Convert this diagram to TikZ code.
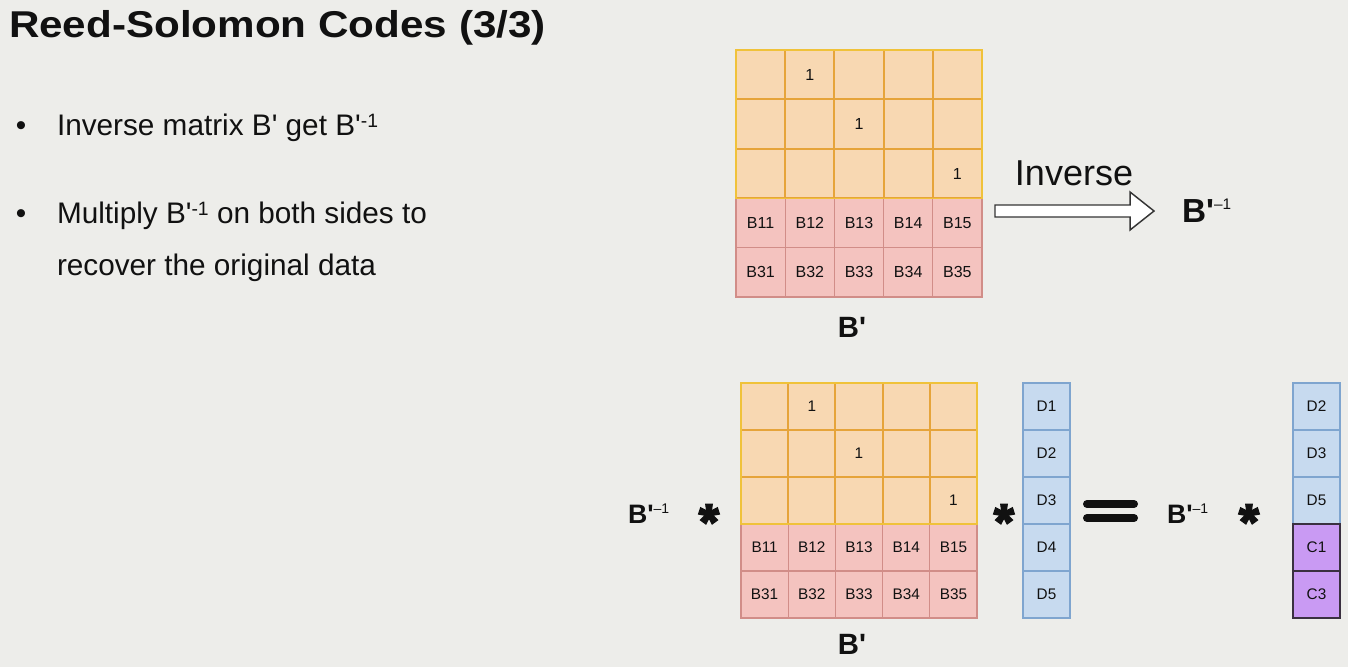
\documentclass[tikz,border=0pt]{standalone}
\usepackage{fontspec}
\setmainfont{Liberation Sans}
\newfontfamily\lsans{Liberation Sans}
\definecolor{bgc}{HTML}{EDEDEA}
\definecolor{orfill}{HTML}{F8D8B2}
\definecolor{ordraw}{HTML}{E6A43A}
\definecolor{oredge}{HTML}{F0C23A}
\definecolor{pkfill}{HTML}{F4C3BF}
\definecolor{pkdraw}{HTML}{D18D88}
\definecolor{blfill}{HTML}{C7DAEF}
\definecolor{bldraw}{HTML}{7FA5CF}
\definecolor{pufill}{HTML}{C99AF3}
\definecolor{pudraw}{HTML}{3A3040}
\definecolor{ink}{HTML}{111111}
\newcommand\ap{{\lsans\char"0027}}
\newcommand\Binv[3]{B\ap\raisebox{#3}{\fontsize{#2}{#2}\selectfont\mdseries –1}}
\newcommand\supm{\raisebox{5.5pt}{\fontsize{14.5}{14.5}\selectfont -1}}
\begin{document}
\begin{tikzpicture}[x=0.75pt,y=-0.75pt,
  every node/.style={inner sep=0pt, outer sep=0pt, text=ink},
  ocellT/.style={draw=ordraw, fill=orfill, line width=1.4pt, minimum width=36.9pt, minimum height=37pt, font=\fontsize{12}{12}\selectfont},
  pcellT/.style={draw=pkdraw, fill=pkfill, line width=0.8pt, minimum width=36.9pt, minimum height=37pt, font=\fontsize{12}{12}\selectfont},
  ocellB/.style={draw=ordraw, fill=orfill, line width=1.4pt, minimum width=35.4pt, minimum height=35.25pt, font=\fontsize{11.5}{11.5}\selectfont},
  pcellB/.style={draw=pkdraw, fill=pkfill, line width=0.8pt, minimum width=35.4pt, minimum height=35.25pt, font=\fontsize{11.5}{11.5}\selectfont},
  bcell/.style={draw=bldraw, fill=blfill, line width=0.8pt, minimum width=35.25pt, minimum height=35.25pt, font=\fontsize{11.5}{11.5}\selectfont},
  ucell/.style={draw=pudraw, fill=pufill, line width=0.8pt, minimum width=35.25pt, minimum height=35.25pt, font=\fontsize{11.5}{11.5}\selectfont},
  oedge/.style={draw=oredge, line width=1pt},
  lblB/.style={font=\fontsize{22}{22}\selectfont\bfseries},
  btxt/.style={font=\fontsize{22.3}{22.3}\selectfont, anchor=base west},
  starst/.style={fill=ink},
  eqst/.style={draw=ink, line width=6pt, line cap=round},
  arrowst/.style={draw=ink!85, fill=white, line width=1.1pt, line join=miter}
]
\fill[bgc] (0,0) rectangle (1348,667);
\useasboundingbox (0,0) rectangle (1348,667);

% title and bullets
\node[font=\fontsize{28}{28}\selectfont\bfseries, anchor=base west] (title) at (9,38) {\scalebox{1.13}[1]{Reed-Solomon Codes (3/3)}};
\node[btxt, anchor=base] (bu1) at (21,135) {•};
\node[btxt] (b1) at (57,135) {Inverse matrix B\ap{} get B\ap\supm};
\node[btxt, anchor=base] (bu2) at (21,223) {•};
\node[btxt] (b2) at (57,223) {Multiply B\ap\supm{} on both sides to};
\node[btxt] (b3) at (57,275) {recover the original data};

% top matrix
\foreach \c [evaluate=\c as \n using int(\c+1)] in {0,...,4}{
  \node[pcellT] (t3\c) at ({736+49.2*(\c+0.5)},{50+49.4*3.5}) {B1\n};
  \node[pcellT] (t4\c) at ({736+49.2*(\c+0.5)},{50+49.4*4.5}) {B3\n};
}
\foreach \r/\one in {0/1,1/2,2/4}{
  \foreach \c in {0,...,4}{
    \ifnum\c=\one\relax\def\t{1}\else\def\t{}\fi
    \node[ocellT] (t\r\c) at ({736+49.2*(\c+0.5)},{50+49.4*(\r+0.5)}) {\t};
  }
}
\draw[oedge] (t00.north west) rectangle (t24.south east);
\node[lblB] (bpT) at (852,327) {B\ap};

% inverse arrow
\coordinate (as) at (995,211);
\draw[arrowst] (as) ++(0,-6) -- ++(135,0) -- ++(0,-13) -- ++(24,19) -- ++(-24,19) -- ++(0,-13) -- ++(-135,0) -- cycle;
\node[font=\fontsize{27}{27}\selectfont, anchor=base] (invtxt) at (1074,185) {Inverse};
\node[font=\fontsize{25}{25}\selectfont\bfseries, anchor=base west] (binvT) at (1182,222) {\Binv{}{11.5}{9.3pt}};

% bottom matrix
\foreach \c [evaluate=\c as \n using int(\c+1)] in {0,...,4}{
  \node[pcellB] (m3\c) at ({741+47.2*(\c+0.5)},{383+47*3.5}) {B1\n};
  \node[pcellB] (m4\c) at ({741+47.2*(\c+0.5)},{383+47*4.5}) {B3\n};
}
\foreach \r/\one in {0/1,1/2,2/4}{
  \foreach \c in {0,...,4}{
    \ifnum\c=\one\relax\def\t{1}\else\def\t{}\fi
    \node[ocellB] (m\r\c) at ({741+47.2*(\c+0.5)},{383+47*(\r+0.5)}) {\t};
  }
}
\draw[oedge] (m00.north west) rectangle (m24.south east);
\node[lblB] (bpB) at (852,644) {B\ap};

% D column
\foreach \i in {1,...,5}{
  \node[bcell] (d\i) at (1046.5,{383+47*(\i-0.5)}) {D\i};
}
% right column
\node[bcell] (r1) at (1316.5,{383+47*0.5}) {D2};
\node[bcell] (r2) at (1316.5,{383+47*1.5}) {D3};
\node[bcell] (r3) at (1316.5,{383+47*2.5}) {D5};
\node[ucell] (r4) at (1316.5,{383+47*3.5}) {C1};
\node[ucell] (r5) at (1316.5,{383+47*4.5}) {C3};

% equation symbols
\node[font=\fontsize{20}{20}\selectfont\bfseries, anchor=base west] (binvL) at (628,523) {\Binv{}{10.5}{7pt}};
\node[font=\fontsize{20}{20}\selectfont\bfseries, anchor=base west] (binvR) at (1167,523) {\Binv{}{10.5}{7pt}};
\coordinate (s1) at (709,514);
\coordinate (s2) at (1004,514);
\coordinate (s3) at (1249,514);
\foreach \s in {s1,s2,s3}{
  \foreach \a in {90,18,162,-54,-126}{
    \begin{scope}[shift={(\s)}, rotate=\a]
      \fill[starst] (0,-2.5) -- (10.5,-4) -- (10.5,4) -- (0,2.5) -- cycle;
    \end{scope}
  }
  \fill[starst] (\s) circle[radius=3.5];
}
\coordinate (eq) at (1110.5,511);
\draw[eqst] (eq) ++(-23.5,-7) -- ++(47,0);
\draw[eqst] (eq) ++(-23.5,7) -- ++(47,0);
\end{tikzpicture}
\end{document}
